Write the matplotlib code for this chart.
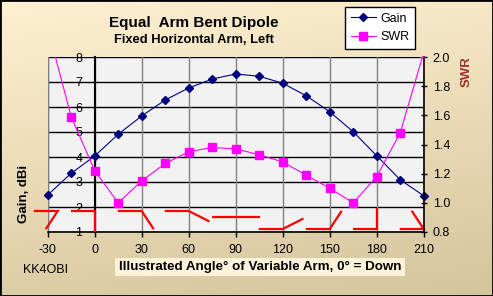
import numpy as np
import matplotlib
matplotlib.use("Agg")
import matplotlib.pyplot as plt
from matplotlib.lines import Line2D
from matplotlib.patches import Rectangle
from matplotlib.colors import to_rgb

plt.rcParams['font.family'] = ['Liberation Sans', 'DejaVu Sans']
plt.rcParams['axes.unicode_minus'] = False

# ---- data ----
angles = [-30, -15, 0, 15, 30, 45, 60, 75, 90, 105, 120, 135, 150, 165, 180, 195, 210]
gain = [2.48, 3.35, 4.04, 4.91, 5.64, 6.28, 6.76, 7.12, 7.32, 7.23, 6.95, 6.45, 5.81, 5.01, 4.05, 3.09, 2.45]
swr = [2.20, 1.59, 1.22, 1.00, 1.15, 1.27, 1.35, 1.38, 1.37, 1.33, 1.28, 1.19, 1.10, 1.00, 1.18, 1.48, 2.03]
x_ticks = [-30, 0, 30, 60, 90, 120, 150, 180, 210]
gain_ticks = [1, 2, 3, 4, 5, 6, 7, 8]
swr_ticks = [0.8, 1.0, 1.2, 1.4, 1.6, 1.8, 2.0]
icon_angles = [-30, 0, 30, 60, 90, 120, 150, 180, 210]
icon_shift = [6.4, 0, 0, 0, 0, 0, 0, 0, 0]

W, H = 493, 296
fig = plt.figure(figsize=(W / 100, H / 100), dpi=100)

# background gradient
bg = fig.add_axes([0, 0, 1, 1], zorder=-10)
c0 = np.array(to_rgb('#fff0d2'))
c1 = np.array(to_rgb('#d5c59c'))
yy, xx = np.mgrid[0:1:100j, 0:1:160j]
t = 0.8 * yy + 0.2 * xx
img = c0[None, None, :] * (1 - t[..., None]) + c1[None, None, :] * t[..., None]
bg.imshow(img, aspect='auto', extent=[0, 1, 1, 0])
bg.set_xlim(0, 1); bg.set_ylim(1, 0)
bg.axis('off')

L, R, T, B = 47.7, 423.7, 57, 232
ax = fig.add_axes([L / W, (H - B) / H, (R - L) / W, (B - T) / H])
ax.set_facecolor('#f2f2f2')
ax.set_xlim(-30, 210)
ax.set_ylim(1, 8)

for y in gain_ticks:
    ax.axhline(y, color='black', lw=1.0, zorder=1)
for x in x_ticks:
    ax.axvline(x, color='#808080', lw=1.0, zorder=1)

for s in ['top', 'right']:
    ax.spines[s].set_visible(False)
ax.spines['left'].set_position(('data', 0))
ax.spines['left'].set_color('black')
ax.spines['left'].set_linewidth(1.5)
ax.spines['left'].set_zorder(2)
ax.spines['bottom'].set_color('black')
ax.spines['bottom'].set_linewidth(1.2)
ax.axvline(-30, color='#808080', lw=1.0, zorder=1)

ax.set_xticks(x_ticks)
ax.set_yticks(gain_ticks)
ax.tick_params(axis='y', length=0, pad=9, labelsize=9)
ax.tick_params(axis='x', length=3.5, width=1, direction='out', pad=5, labelsize=9)

ax.plot(angles, gain, color='#000080', lw=0.8, marker='D', markersize=4.2,
        markerfacecolor='#000080', markeredgecolor='#000080', zorder=4, clip_on=False)

# antenna illustrations
arm_dx = 15.3
arm_dy = 0.84
for a, sh in zip(icon_angles, icon_shift):
    c = np.cos(np.radians(a))
    s = np.sin(np.radians(a))
    if c > 1e-6:
        py = 1.84
    elif c < -1e-6:
        py = 1.12
    else:
        py = 1.61
    px = a + sh
    ax.plot([px - arm_dx, px, px + arm_dx * s], [py, py, py - arm_dy * c],
            color='#ff0000', lw=1.6, solid_capstyle='butt', solid_joinstyle='miter',
            clip_on=False, zorder=5)

ax2 = ax.twinx()
ax2.set_ylim(0.8, 2.0)
ax2.set_yticks(swr_ticks)
ax2.set_yticklabels([f"{v:.1f}" for v in swr_ticks])
for s in ['top', 'left', 'bottom']:
    ax2.spines[s].set_visible(False)
ax2.spines['right'].set_color('black')
ax2.spines['right'].set_linewidth(1.2)
ax2.tick_params(axis='y', direction='inout', length=5, width=1, pad=4, labelsize=9)
ax2.plot(angles, swr, color='#ff00ff', lw=0.8, marker='s', markersize=6,
         markerfacecolor='#ff00ff', markeredgecolor='#ff00ff', zorder=4)

# texts
fig.text(194 / W, 1 - 23 / H, "Equal  Arm Bent Dipole", ha='center', va='center',
         fontsize=11, fontweight='bold')
fig.text(194 / W, 1 - 40 / H, "Fixed Horizontal Arm, Left", ha='center', va='center',
         fontsize=9.3, fontweight='bold')
fig.text(467 / W, 1 - 72 / H, "SWR", ha='center', va='center', rotation=90,
         fontsize=9.5, fontweight='bold', color='#993333')
fig.text(24 / W, 1 - 194 / H, "Gain, dBi", ha='center', va='center', rotation=90,
         fontsize=9.5, fontweight='bold')
fig.text(45 / W, 1 - 270 / H, "KK4OBI", ha='center', va='center', fontsize=9)
fig.text(260 / W, 1 - 267 / H, "Illustrated Angle° of Variable Arm, 0° = Down",
         ha='center', va='center', fontsize=9.6, fontweight='bold',
         bbox=dict(boxstyle='square,pad=0.25', facecolor='#fdf3da', edgecolor='none'))

# legend
handles = [Line2D([], [], color='#000080', lw=0.8, marker='D', markersize=4.2),
           Line2D([], [], color='#ff00ff', lw=0.8, marker='s', markersize=6)]
leg = fig.legend(handles, ['Gain', 'SWR'], loc='upper left',
                 bbox_to_anchor=(345 / W, 1 - 7 / H), frameon=True, fancybox=False,
                 edgecolor='black', facecolor='white', framealpha=1, fontsize=9,
                 handlelength=2.0, handletextpad=0.4, borderpad=0.45, labelspacing=0.55,
                 borderaxespad=0)
leg.get_frame().set_linewidth(1.0)

fig.patches.append(Rectangle((0, 0), 1, 1, transform=fig.transFigure, fill=False,
                             edgecolor='black', lw=2.0, zorder=100))

fig.savefig('out.png', dpi=100)
